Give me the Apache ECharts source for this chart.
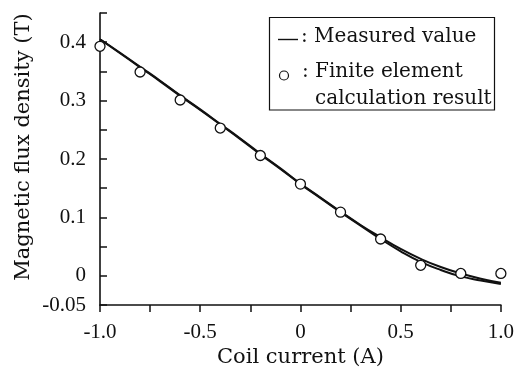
<!DOCTYPE html>
<html>
<head>
<meta charset="utf-8">
<script src="https://cdn.jsdelivr.net/npm/echarts@6/dist/echarts.min.js"></script>
<style>html,body{margin:0;padding:0;background:#fff;}#c{width:517px;height:374px;}</style>
</head>
<body>
<div id="c"></div>
<script>
// Coil current (A) sample positions for measured curves
var currentMeasured = [-1.0,-0.9,-0.8,-0.7,-0.6,-0.5,-0.4,-0.3,-0.2,-0.1,0,0.1,0.2,0.3,0.4,0.5,0.6,0.7,0.8,0.9,1.0];
// Measured flux density (T), two sweeps
var measuredUpper = [0.405,0.382,0.358,0.334,0.309,0.285,0.260,0.235,0.209,0.184,0.158,0.134,0.110,0.087,0.066,0.046,0.029,0.015,0.004,-0.005,-0.012];
var measuredLower = [0.405,0.381,0.357,0.333,0.308,0.284,0.259,0.234,0.208,0.183,0.157,0.133,0.109,0.086,0.063,0.042,0.024,0.010,-0.001,-0.008,-0.014];
// Finite element calculation result
var currentFem = [-1.0,-0.8,-0.6,-0.4,-0.2,0,0.2,0.4,0.6,0.8,1.0];
var fluxFem = [0.393,0.349,0.301,0.253,0.206,0.157,0.109,0.063,0.018,0.004,0.004];

var xTickLabels = {'-1':'-1.0','-0.5':'-0.5','0':'0','0.5':'0.5','1':'1.0'};
var yTickLabels = {'-0.05':'-0.05','0':'0','0.1':'0.1','0.2':'0.2','0.3':'0.3','0.4':'0.4'};

function pairs(xs, ys){ return xs.map(function(x,i){ return [x, ys[i]]; }); }

var tickFont = 'Liberation Serif';
var titleFont = 'DejaVu Serif';
var txt = '20px "DejaVu Serif"';
var chart = echarts.init(document.getElementById('c'));
chart.setOption({
  animation: false,
  grid: {left: 100, right: 16, top: 13, bottom: 69, containLabel: false},
  xAxis: {
    type: 'value', min: -1, max: 1, interval: 0.25,
    name: 'Coil current (A)', nameLocation: 'middle', nameGap: 42, nameMoveOverlap: false,
    nameTextStyle: {fontFamily: titleFont, fontSize: 21, color: '#111'},
    axisLine: {onZero: false, lineStyle: {color: '#111', width: 1.6}},
    axisTick: {show: true, length: 7, lineStyle: {color: '#111', width: 1.5}},
    axisLabel: {
      margin: 17, fontFamily: tickFont, fontSize: 21, color: '#111',
      formatter: function(v){ var k = String(Math.round(v*100)/100); return xTickLabels[k] !== undefined ? xTickLabels[k] : ''; }
    },
    splitLine: {show: false}
  },
  yAxis: {
    type: 'value', min: -0.05, max: 0.45, interval: 0.05,
    name: 'Magnetic flux density (T)', nameLocation: 'middle', nameGap: 66, nameMoveOverlap: false,
    nameTextStyle: {fontFamily: titleFont, fontSize: 21, color: '#111', padding: [0,0,0,24]},
    axisLine: {show: true, onZero: false, lineStyle: {color: '#111', width: 1.6}},
    axisTick: {show: true, inside: true, length: 7, lineStyle: {color: '#111', width: 1.5}},
    axisLabel: {
      margin: 14, fontFamily: tickFont, fontSize: 21, color: '#111',
      formatter: function(v){ var k = String(Math.round(v*100)/100); return yTickLabels[k] !== undefined ? yTickLabels[k] : ''; }
    },
    splitLine: {show: false}
  },
  series: [
    {name: 'Measured value', type: 'line', data: pairs(currentMeasured, measuredUpper), smooth: true, showSymbol: false,
     lineStyle: {color: '#111', width: 2}, z: 2},
    {name: 'Measured value', type: 'line', data: pairs(currentMeasured, measuredLower), smooth: true, showSymbol: false,
     lineStyle: {color: '#111', width: 2}, z: 2},
    {name: 'Finite element calculation result', type: 'scatter', data: pairs(currentFem, fluxFem),
     symbol: 'circle', symbolSize: 10, itemStyle: {color: '#fff', opacity: 1, borderColor: '#111', borderWidth: 1.3}, z: 5}
  ],
  graphic: [
    {type: 'rect', shape: {x: 269.5, y: 17.5, width: 225, height: 92.5}, style: {fill: '#fff', stroke: '#111', lineWidth: 1.2}, z: 10},
    {type: 'line', shape: {x1: 278, y1: 39.5, x2: 298, y2: 39.5}, style: {stroke: '#111', lineWidth: 1.4}, z: 11},
    {type: 'text', style: {x: 301, y: 36.5, verticalAlign: 'middle', text: ': Measured value', font: txt, fill: '#111'}, z: 11},
    {type: 'circle', shape: {cx: 284, cy: 75.5, r: 4.5}, style: {fill: '#fff', stroke: '#111', lineWidth: 1.2}, z: 11},
    {type: 'text', style: {x: 302, y: 71.5, verticalAlign: 'middle', text: ': Finite element', font: txt, fill: '#111'}, z: 11},
    {type: 'text', style: {x: 315, y: 99, verticalAlign: 'middle', text: 'calculation result', font: txt, fill: '#111'}, z: 11}
  ]
});
</script>
</body>
</html>
